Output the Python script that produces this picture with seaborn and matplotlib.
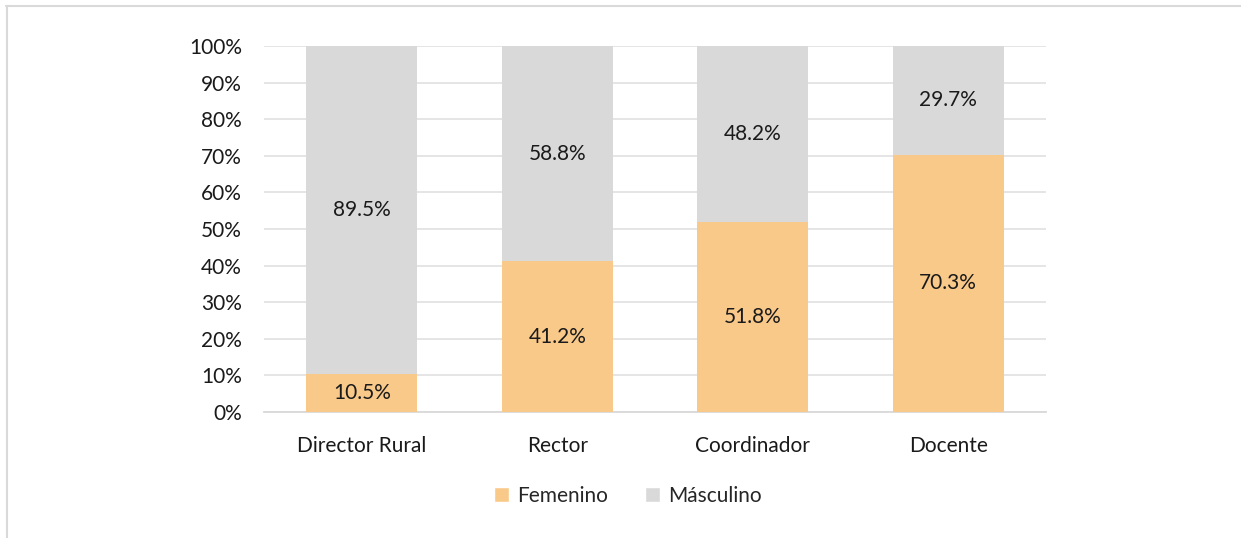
import pandas as pd
import matplotlib.pyplot as plt
import seaborn as sns
from matplotlib.patches import Patch
from matplotlib.lines import Line2D

# Datos
cargos = ['Director Rural', 'Rector', 'Coordinador', 'Docente']
femenino = [10.5, 41.2, 51.8, 70.3]
masculino = [89.5, 58.8, 48.2, 29.7]
yticks = [0, 10, 20, 30, 40, 50, 60, 70, 80, 90, 100]

color_fem = '#F9C98A'
color_mas = '#D9D9D9'

df = pd.DataFrame({'Cargo': cargos, 'Femenino': femenino, 'Masculino': masculino})
df['Total'] = df['Femenino'] + df['Masculino']

sns.set_style('white')
plt.rcParams['font.family'] = ['Lato', 'DejaVu Sans']
fs = 15

fig = plt.figure(figsize=(12.41, 5.38), dpi=100)
ax = fig.add_axes([264 / 1241, 1 - 412 / 538, 782 / 1241, 366 / 538])

# barra completa (masculino encima) y luego femenino
sns.barplot(x='Cargo', y='Total', data=df, color=color_mas, width=0.57,
            saturation=1, linewidth=0, ax=ax, zorder=2)
sns.barplot(x='Cargo', y='Femenino', data=df, color=color_fem, width=0.57,
            saturation=1, linewidth=0, ax=ax, zorder=3)

for i, (f, m) in enumerate(zip(femenino, masculino)):
    ax.text(i, f / 2, f'{f}%', ha='center', va='center', fontsize=fs, color='#1a1a1a', zorder=4)
    ax.text(i, f + m / 2, f'{m}%', ha='center', va='center', fontsize=fs, color='#1a1a1a', zorder=4)

ax.set_ylim(0, 100)
ax.set_xlim(-0.5, 3.5)
ax.set_yticks(yticks)
ax.set_yticklabels([f'{t}%' for t in yticks], fontsize=fs, color='#1a1a1a')
ax.tick_params(axis='x', labelsize=fs, colors='#1a1a1a', length=0, pad=17)
ax.tick_params(axis='y', length=0, pad=16)
ax.set_xlabel('')
ax.set_ylabel('')
ax.grid(axis='y', color='#E3E3E3', linewidth=1.3, zorder=0)
ax.set_axisbelow(True)
for s in ['top', 'right', 'left']:
    ax.spines[s].set_visible(False)
ax.spines['bottom'].set_color('#D9D9D9')
ax.spines['bottom'].set_linewidth(1.3)

handles = [Patch(facecolor=color_fem, label='Femenino'),
           Patch(facecolor=color_mas, label='Másculino')]
fig.legend(handles=handles, loc='center', bbox_to_anchor=(628 / 1241, 1 - 496 / 538),
           ncol=2, frameon=False, fontsize=fs, handlelength=0.7, handleheight=0.7,
           handletextpad=0.4, columnspacing=1.8)

# borde del gráfico
fig.add_artist(Line2D([6 / 1241, 1], [1 - 5.5 / 538, 1 - 5.5 / 538], color='#D9D9D9', linewidth=1.5,
                      transform=fig.transFigure))
fig.add_artist(Line2D([6.5 / 1241, 6.5 / 1241], [0, 1 - 5.5 / 538], color='#D9D9D9', linewidth=1.5,
                      transform=fig.transFigure))

fig.savefig('out.png', dpi=100)
